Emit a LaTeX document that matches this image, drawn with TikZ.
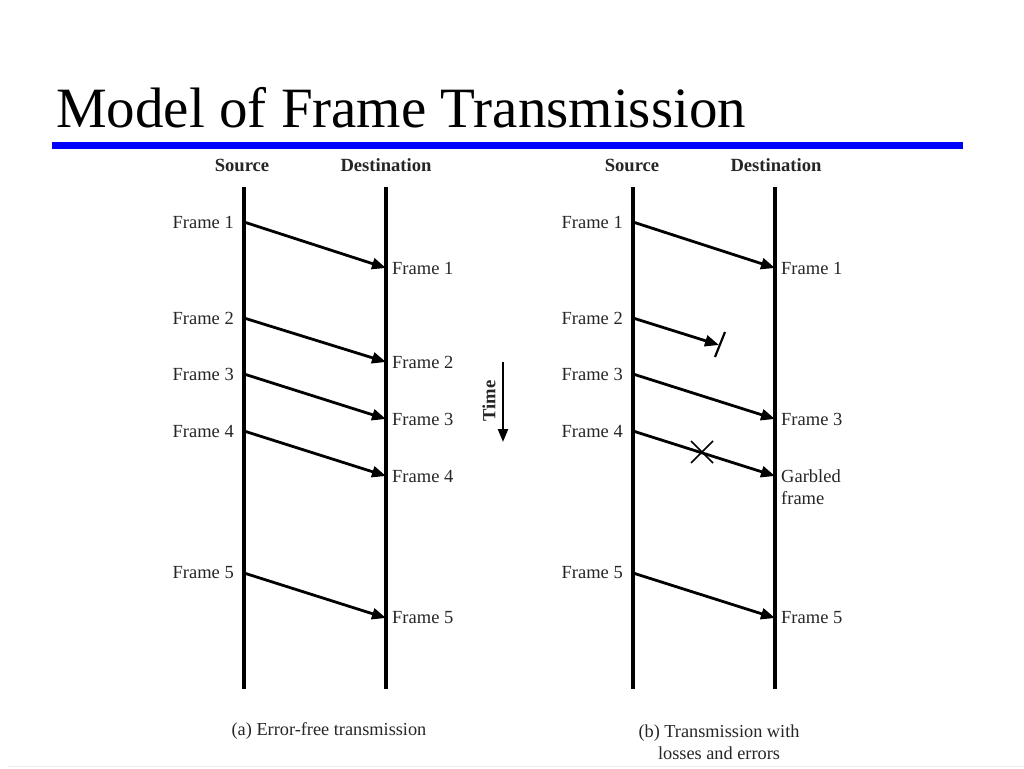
\documentclass[tikz,border=0pt]{standalone}
\usepackage{fontspec}
\setmainfont{Liberation Serif}
\usetikzlibrary{arrows.meta,calc}
\begin{document}
\begin{tikzpicture}[x=1pt,y=-1pt,
  lifeline/.style={line width=4.2pt},
  msg/.style={line width=2.8pt,-{Triangle[length=14pt,width=11pt]}},
  lbl/.style={font=\fontsize{18.5}{22}\selectfont,text=black!85,inner sep=0pt},
  srclbl/.style={lbl,anchor=east},
  dstlbl/.style={lbl,anchor=west},
  hdr/.style={font=\bfseries\fontsize{18.6}{22}\selectfont,text=black!85,inner sep=0pt},
  captxt/.style={font=\fontsize{18.3}{22}\selectfont,text=black!85,inner sep=0pt,align=center},
  xmarkline/.style={line width=1.6pt}]
\useasboundingbox[fill=white] (0,0) rectangle (1024,768);
% title and rule
\node[anchor=base west,inner sep=0pt,font=\fontsize{57}{60}\selectfont] (title) at (56,127) {Model of Frame Transmission};
\coordinate (ruleL) at (52,145);
\coordinate (ruleR) at (963,145);
\draw[blue,line width=7pt] (ruleL) -- (ruleR);
% headers
\node[hdr] (hsa) at (242,165) {Source};
\node[hdr] (hda) at (386,165) {Destination};
\node[hdr] (hsb) at (632,165) {Source};
\node[hdr] (hdb) at (776,165) {Destination};
% lifelines
\coordinate (sat) at (244,187); \coordinate (sab) at (244,689);
\coordinate (dat) at (386,187); \coordinate (dab) at (386,689);
\coordinate (sbt) at (633,187); \coordinate (sbb) at (633,689);
\coordinate (dbt) at (775,187); \coordinate (dbb) at (775,689);
\draw[lifeline] (sat) -- (sab);
\draw[lifeline] (dat) -- (dab);
\draw[lifeline] (sbt) -- (sbb);
\draw[lifeline] (dbt) -- (dbb);
% (a) error-free
\foreach \n/\ys/\yd in {1/222/268,2/318/362,3/374/419,4/431/476,5/573/618}{
  \coordinate (as\n) at (244,\ys);
  \coordinate (ad\n) at (386,\yd);
  \node[srclbl] (als\n) at (234,\ys) {Frame \n};
  \node[dstlbl] (ald\n) at (392,\yd) {Frame \n};
  \draw[msg] (as\n) -- (ad\n);
}
% (b) with losses and errors
\foreach \n/\ys in {1/222,2/318,3/374,4/431,5/573}{
  \coordinate (bs\n) at (633,\ys);
  \node[srclbl] (bls\n) at (623,\ys) {Frame \n};
}
\foreach \n/\yd in {1/268,3/419,5/618}{
  \coordinate (bd\n) at (775,\yd);
  \node[dstlbl] (bld\n) at (781,\yd) {Frame \n};
  \draw[msg] (bs\n) -- (bd\n);
}
% lost frame 2
\coordinate (lost) at (719,345);
\coordinate (tickA) at (715,357);
\coordinate (tickB) at (725,332);
\draw[msg] (bs2) -- (lost);
\draw[line width=2.2pt] (tickA) -- (tickB);
% garbled frame 4
\coordinate (bd4) at (775,476);
\draw[msg] (bs4) -- (bd4);
\node[dstlbl,align=left] (bld4) at (781,487) {Garbled\\frame};
\coordinate (xc) at (702,452);
\draw[xmarkline] ($(xc)+(-11,-11)$) -- ($(xc)+(11,11)$) ($(xc)+(-11,11)$) -- ($(xc)+(11,-11)$);
% time arrow
\coordinate (tt) at (503,362);
\coordinate (tb) at (503,442);
\draw[line width=2.4pt,-{Triangle[length=13pt,width=10pt]}] (tt) -- (tb);
\node[hdr,rotate=90] (time) at (489,401) {Time};
% captions
\node[captxt] (capa) at (329,731) {(a) Error-free transmission};
\node[captxt] (capb) at (719,742) {(b) Transmission with\\losses and errors};
\coordinate (bl) at (8,766); \coordinate (br) at (1024,766);
\draw[black!8,line width=1pt] (bl) -- (br);
\end{tikzpicture}
\end{document}
